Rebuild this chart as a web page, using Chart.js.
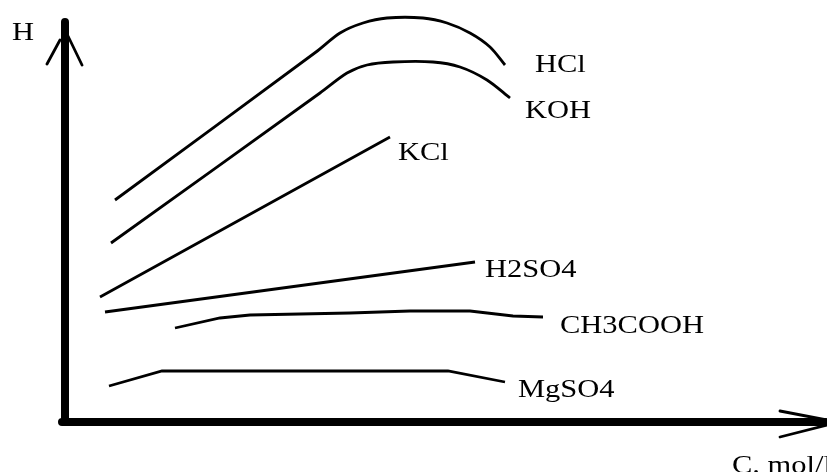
<!DOCTYPE html>
<html>
<head>
<meta charset="utf-8">
<script src="https://cdn.jsdelivr.net/npm/chart.js@4/dist/chart.umd.min.js"></script>
<style>
  html, body { margin: 0; padding: 0; background: #fff; }
  #wrap { width: 827px; height: 472px; }
</style>
</head>
<body>
<div id="wrap"><canvas id="sketch"></canvas></div>
<script>
// sketch units: x = concentration, y = H (arbitrary)
const names = ["HCl", "KOH", "KCl", "H2SO4", "CH3COOH", "MgSO4"];

const hclX = [5.0, 25.1, 27.5, 29.8, 32.2, 35.8, 38.2, 40.5, 42.5, 44.0];
const hclY = [22.2, 37.0, 38.9, 39.9, 40.4, 40.4, 39.9, 38.9, 37.5, 35.7];

const kohX = [4.6, 25.5, 28.2, 30.2, 32.8, 36.8, 39.5, 42.2, 44.5];
const kohY = [17.9, 32.9, 34.9, 35.7, 36.0, 36.0, 35.5, 34.2, 32.4];

const kclX = [3.5, 32.5];
const kclY = [12.5, 28.5];

const h2so4X = [4.0, 41.0];
const h2so4Y = [11.0, 16.0];

const ch3coohX = [11.0, 15.5, 18.5, 28.5, 34.5, 40.5, 44.8, 47.8];
const ch3coohY = [9.4, 10.4, 10.7, 10.9, 11.1, 11.1, 10.6, 10.5];

const mgso4X = [4.4, 9.7, 38.3, 44.0];
const mgso4Y = [3.6, 5.1, 5.1, 4.0];

// where each curve name sits (left edge, baseline)
const labelX = [47.0, 46.0, 33.3, 42.0, 49.5, 45.3];
const labelY = [35.0, 30.4, 26.2, 14.5, 8.9, 2.5];

const yTitle = "H";
const xTitle = "C. mol/l";

const seriesX = [hclX, kohX, kclX, h2so4X, ch3coohX, mgso4X];
const seriesY = [hclY, kohY, kclY, h2so4Y, ch3coohY, mgso4Y];
const curved = ["HCl", "KOH"];

function pts(xs, ys) {
  return xs.map((x, i) => ({ x: x, y: ys[i] }));
}

const sketchAxes = {
  id: "sketchAxes",
  afterDatasetsDraw(chart) {
    const ctx = chart.ctx;
    const xs = chart.scales.x, ys = chart.scales.y;
    const ox = xs.getPixelForValue(0), oy = ys.getPixelForValue(0);
    const topY = ys.getPixelForValue(40.0);
    const endX = xs.getPixelForValue(76.0);

    ctx.save();
    ctx.strokeStyle = "#000";
    ctx.lineCap = "round";

    // thick axes
    ctx.lineWidth = 8;
    ctx.beginPath();
    ctx.moveTo(ox, oy);
    ctx.lineTo(ox, topY);
    ctx.moveTo(ox - 3, oy);
    ctx.lineTo(endX, oy);
    ctx.stroke();

    // hand-drawn arrow heads
    ctx.lineWidth = 2.8;
    ctx.beginPath();
    ctx.moveTo(ox - 18, topY + 42);
    ctx.lineTo(ox - 5, topY + 18);
    ctx.moveTo(ox + 3, topY + 14);
    ctx.lineTo(ox + 17, topY + 43);
    ctx.moveTo(endX - 45, oy - 11);
    ctx.lineTo(endX + 2, oy - 2);
    ctx.moveTo(endX - 45, oy + 15);
    ctx.lineTo(endX + 2, oy + 3);
    ctx.stroke();

    // text
    ctx.fillStyle = "#000";
    ctx.font = "25px 'Liberation Serif', serif";
    ctx.textBaseline = "alphabetic";
    const put = (txt, vx, vy) => {
      const px = xs.getPixelForValue(vx), py = ys.getPixelForValue(vy);
      ctx.save();
      ctx.translate(px, py);
      ctx.scale(1.22, 1);
      ctx.fillText(txt, 0, 0);
      ctx.restore();
    };
    names.forEach((n, i) => put(n, labelX[i], labelY[i]));
    put(yTitle, -5.3, 38.2);
    put(xTitle, 66.7, -5.1);
    ctx.restore();
  }
};

new Chart(document.getElementById("sketch").getContext("2d"), {
  type: "line",
  data: {
    datasets: names.map((n, i) => ({
      label: n,
      data: pts(seriesX[i], seriesY[i]),
      borderColor: "#000",
      borderWidth: 2.8,
      pointRadius: 0,
      tension: curved.includes(n) ? 0.3 : 0,
      fill: false,
    })),
  },
  options: {
    responsive: true,
    maintainAspectRatio: false,
    animation: false,
    layout: { padding: 0 },
    plugins: {
      legend: { display: false },
      tooltip: { enabled: false },
    },
    scales: {
      x: { type: "linear", min: -6.5, max: 76.2, display: false },
      y: { type: "linear", min: -5.0, max: 42.2, display: false },
    },
  },
  plugins: [sketchAxes],
});
</script>
</body>
</html>
